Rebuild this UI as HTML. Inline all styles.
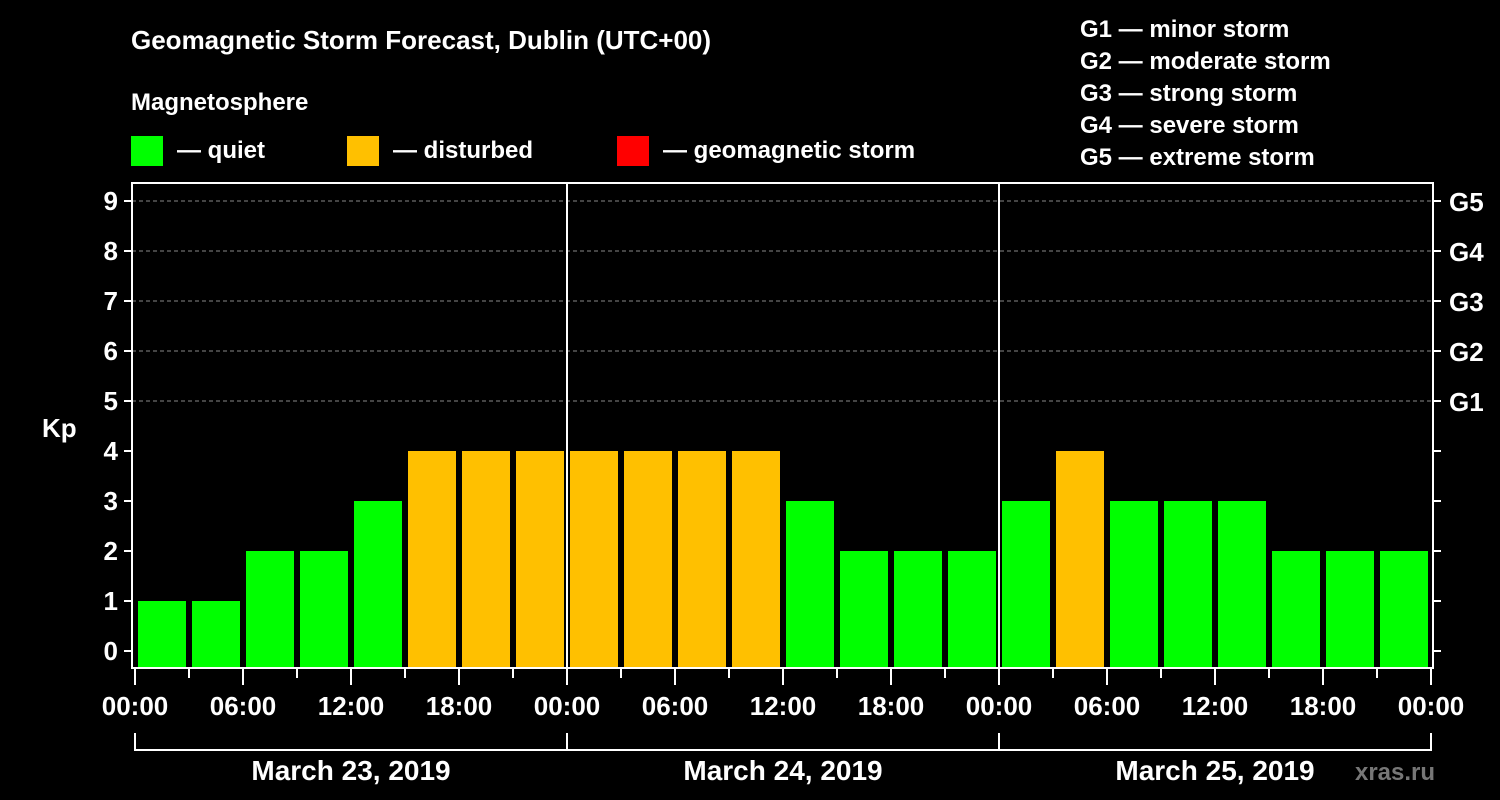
<!DOCTYPE html>
<html><head><meta charset="utf-8"><style>
html,body{margin:0;padding:0;background:#000;}
svg{display:block;font-family:"Liberation Sans",Arial,sans-serif;font-weight:bold;}
</style></head><body>
<svg id="chart" width="1500" height="800" viewBox="0 0 1500 800">
<rect x="0" y="0" width="1500" height="800" fill="#000"/>
<text x="131" y="49" fill="#fff" font-size="26">Geomagnetic Storm Forecast, Dublin (UTC+00)</text>
<text x="131" y="110" fill="#fff" font-size="24">Magnetosphere</text>
<g><rect x="131" y="136" width="32" height="30" fill="#00ff00"/><text x="177" y="158" fill="#fff" font-size="24">— quiet</text></g>
<g><rect x="347" y="136" width="32" height="30" fill="#ffc000"/><text x="393" y="158" fill="#fff" font-size="24">— disturbed</text></g>
<g><rect x="617" y="136" width="32" height="30" fill="#ff0000"/><text x="663" y="158" fill="#fff" font-size="24">— geomagnetic storm</text></g>
<g fill="#fff" font-size="24">
<text x="1080" y="37">G1 — minor storm</text>
<text x="1080" y="69">G2 — moderate storm</text>
<text x="1080" y="101">G3 — strong storm</text>
<text x="1080" y="133">G4 — severe storm</text>
<text x="1080" y="165">G5 — extreme storm</text>
</g>
<text x="42" y="437" fill="#fff" font-size="26">Kp</text>
<g id="grid"></g>
<g id="bars"></g>
<g id="axes"></g>
<text x="1395" y="780" fill="#777" font-size="24" text-anchor="middle">xras.ru</text>
</svg>
<script>
const days = ["March 23, 2019","March 24, 2019","March 25, 2019"];
const kpValues = [1,1,2,2,3,4,4,4, 4,4,4,4,3,2,2,2, 3,4,3,3,3,2,2,2];
const yTicks = [0,1,2,3,4,5,6,7,8,9];
const gLabels = ["G1","G2","G3","G4","G5"];
const xTickLabels = ["00:00","06:00","12:00","18:00"];

const NS = "http://www.w3.org/2000/svg";
const L = 132, R = 1433, T = 183, B = 668;
const x0 = 135, dayW = 432;
const slotsPerDay = 8;
const slotW = dayW / slotsPerDay;
function xScale(slot){ return x0 + slot * slotW; }
function yScale(v){ return 651 - 50 * v; }
function mk(tag, attrs, parent){ const e=document.createElementNS(NS,tag); for(const k in attrs) e.setAttribute(k,attrs[k]); parent.appendChild(e); return e; }
const grid=document.getElementById('grid'), bars=document.getElementById('bars'), axes=document.getElementById('axes');

yTicks.forEach(v=>{
  const y=yScale(v);
  if(v>=5){
    const g=mk('line',{x1:L,x2:R,y1:y,y2:y,stroke:'#888','stroke-dasharray':'4,3','stroke-width':1},grid);
    
    
  }
  const t=mk('line',{x1:L-8,x2:L,y1:y,y2:y,stroke:'#fff','stroke-width':2},axes);
  
  
  const tr=mk('line',{x1:R,x2:R+8,y1:y,y2:y,stroke:'#fff','stroke-width':2},axes);
  
  
  const lb=mk('text',{x:L-14,y:y+9,fill:'#fff','font-size':26,'text-anchor':'end'},axes);
  lb.textContent=v;
  
  
});
gLabels.forEach((g,i)=>{
  const lb=mk('text',{x:R+16,y:yScale(5+i)+10,fill:'#fff','font-size':26},axes);
  lb.textContent=g;
  
  
});

kpValues.forEach((v,i)=>{
  const col = v>=5 ? '#ff0000' : (v>=4 ? '#ffc000' : '#00ff00');
  const yt=yScale(v);
  const b=mk('rect',{x:xScale(i)+3,y:yt,width:slotW-6,height:B-1-yt,fill:col},bars);
  
  
});

// frame
const fr=mk('rect',{x:L,y:T,width:R-L,height:B-T,fill:'none',stroke:'#fff','stroke-width':2},axes);


for(let d=1; d<days.length; d++){
  const x=xScale(d*slotsPerDay);
  const l=mk('line',{x1:x,x2:x,y1:T,y2:B,stroke:'#fff','stroke-width':2},axes);
  
  
}
for(let s=0; s<=days.length*slotsPerDay; s++){
  const x=xScale(s);
  const major = s%2===0;
  const t=mk('line',{x1:x,x2:x,y1:B,y2:B+(major?17:10),stroke:'#fff','stroke-width':2},axes);
  
  
  if(major){
    const lb=mk('text',{x:x,y:715,fill:'#fff','font-size':26,'text-anchor':'middle'},axes);
    lb.textContent=xTickLabels[(s/2)%4];
    
    
  }
}
const br=mk('line',{x1:xScale(0),x2:xScale(days.length*slotsPerDay),y1:750,y2:750,stroke:'#fff','stroke-width':2},axes);


for(let d=0; d<=days.length; d++){
  const x=xScale(d*slotsPerDay);
  const v=mk('line',{x1:x,x2:x,y1:733,y2:751,stroke:'#fff','stroke-width':2},axes);
  
  
}
days.forEach((d,i)=>{
  const lb=mk('text',{x:xScale(i*slotsPerDay+slotsPerDay/2),y:780,fill:'#fff','font-size':28,'text-anchor':'middle'},axes);
  lb.textContent=d;
  
  
});
</script>
</body></html>
